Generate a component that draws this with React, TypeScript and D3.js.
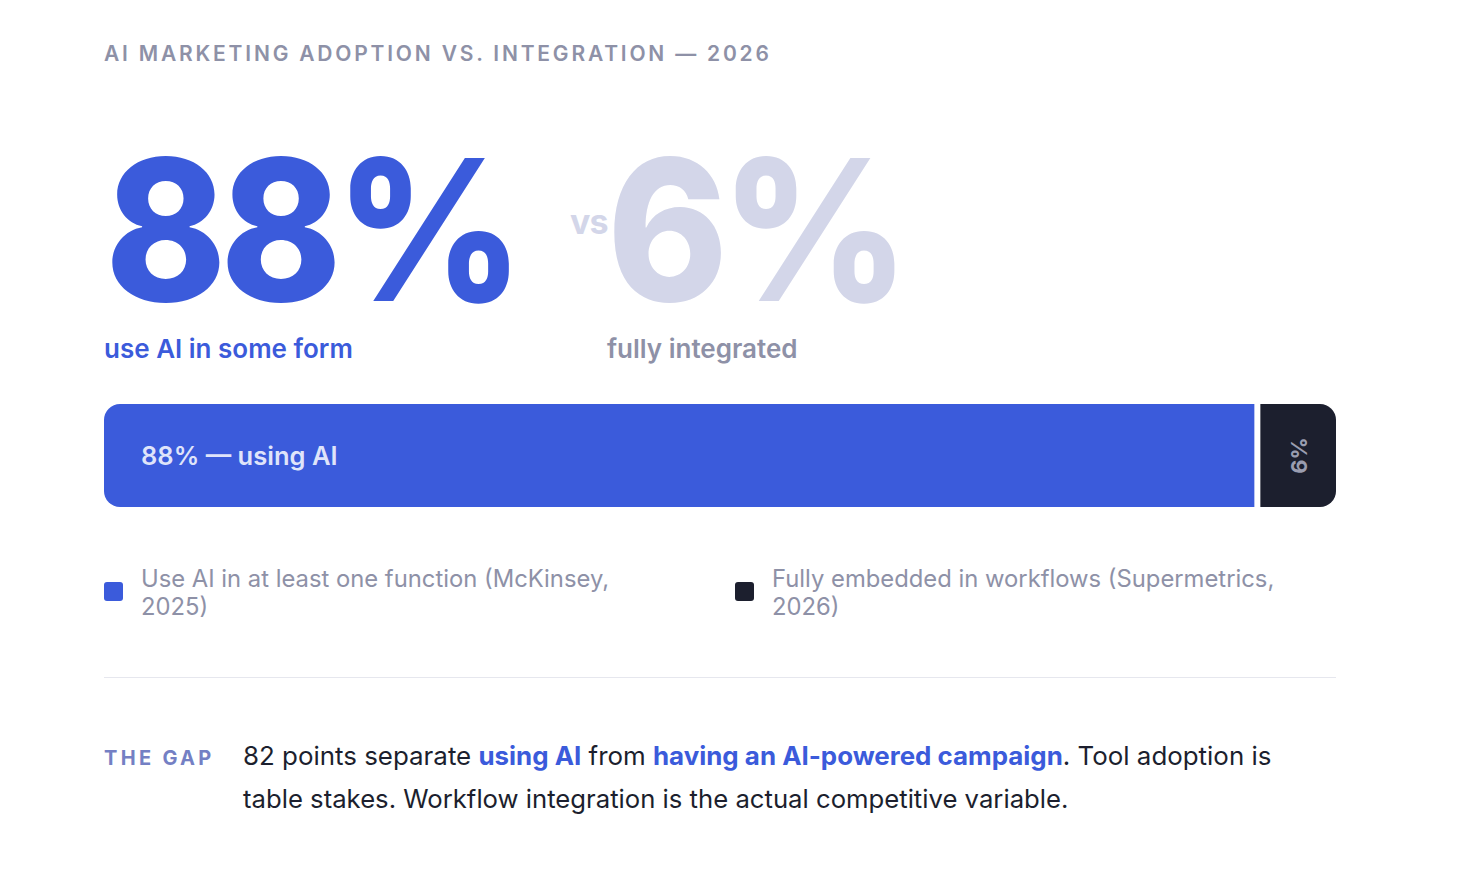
import React from "react";
import * as d3 from "d3";

const title = "AI MARKETING ADOPTION VS. INTEGRATION — 2026";
const categories = ["using AI", "fully integrated"];
const values = [88, 6];
const headlineLabels = ["use AI in some form", "fully integrated"];
const barLabels = ["88% — using AI", "6%"];
const legendLines = [
  ["Use AI in at least one function (McKinsey,", "2025)"],
  ["Fully embedded in workflows (Supermetrics,", "2026)"],
];
const gapLabel = "THE GAP";
const gapLine1 = [
  { t: "82 points separate ", b: false },
  { t: "using AI", b: true },
  { t: " from ", b: false },
  { t: "having an AI-powered campaign", b: true },
  { t: ". Tool adoption is", b: false },
];
const gapLine2 = "table stakes. Workflow integration is the actual competitive variable.";

const BLUE = "#3b5bdb";
const DARK = "#1c1f2e";
const PALE = "#d3d6e9";
const GRAY = "#8e91a7";
const FONT = "Inter, 'Noto Sans', sans-serif";

function roundedPath(x0: number, x1: number, y0: number, y1: number, rl: number, rr: number) {
  const p = d3.path();
  p.moveTo(x0 + rl, y0);
  p.lineTo(x1 - rr, y0);
  if (rr) p.arcTo(x1, y0, x1, y0 + rr, rr);
  p.lineTo(x1, y1 - rr);
  if (rr) p.arcTo(x1, y1, x1 - rr, y1, rr);
  p.lineTo(x0 + rl, y1);
  if (rl) p.arcTo(x0, y1, x0, y1 - rl, rl);
  p.lineTo(x0, y0 + rl);
  if (rl) p.arcTo(x0, y0, x0 + rl, y0, rl);
  p.closePath();
  return p.toString();
}

export default function App() {
  const left = 104;
  const right = 1336;
  const x = d3.scaleLinear().domain([0, d3.sum(values)]).range([left, right]);
  const barTop = 404;
  const barH = 103;
  const gap = 3;
  const starts = values.map((_, i) => d3.sum(values.slice(0, i)));
  const colors = [BLUE, DARK];
  const legendX = [left, 735];
  const sx = 0.935;

  return (
    <div style={{ position: "absolute", left: 0, top: 0, background: "#fff" }}>
      <svg width={1457} height={880} style={{ display: "block", fontFamily: FONT }}>
        <rect width={1457} height={880} fill="#fff" />
        <text x={left} y={61} fontSize={21} fontWeight={600} letterSpacing={2.8} fill="#8e91a7">
          {title}
        </text>

        {/* headline numbers */}
        <g transform={`translate(${left + 1},301) scale(${sx},1)`}>
          <text x={0} y={0} fontSize={196} fontWeight={800} letterSpacing={-7} fill={BLUE}>
            {`${values[0]}%`}
          </text>
        </g>
        <text x={570} y={234} fontSize={34} fontWeight={700} letterSpacing={-1} fill={PALE}>
          vs
        </text>
        <g transform={`translate(607,301) scale(${sx},1)`}>
          <text x={0} y={0} fontSize={196} fontWeight={800} letterSpacing={-8} fill={PALE}>
            {`${values[1]}%`}
          </text>
        </g>
        <text x={left} y={358} fontSize={26} fontWeight={600} fill={BLUE}>
          {headlineLabels[0]}
        </text>
        <text x={607} y={358} fontSize={26} fontWeight={600} fill={GRAY}>
          {headlineLabels[1]}
        </text>

        {/* bar */}
        {values.map((v, i) => {
          const x0 = x(starts[i]) + (i > 0 ? gap : 0);
          const x1 = x(starts[i] + v) - (i < values.length - 1 ? gap : 0);
          return (
            <path
              key={categories[i]}
              d={roundedPath(x0, x1, barTop, barTop + barH, i === 0 ? 16 : 0, i === values.length - 1 ? 16 : 0)}
              fill={colors[i]}
            />
          );
        })}
        <text x={x(0) + 37} y={barTop + barH / 2 + 9} fontSize={25.5} fontWeight={600} fill="#dfe4fa">
          {barLabels[0]}
        </text>
        <text
          transform={`translate(${(x(starts[1]) + gap + x(d3.sum(values))) / 2 + 1},${barTop + barH / 2}) rotate(-90)`}
          textAnchor="middle"
          dy="0.35em"
          fontSize={22}
          fontWeight={700}
          fill="#9a9db0"
        >
          {barLabels[1]}
        </text>

        {/* legend */}
        {legendLines.map((lines, i) => (
          <g key={i}>
            <rect x={legendX[i]} y={582} width={19} height={19} rx={3} fill={colors[i]} />
            <text x={legendX[i] + 37} y={587} fontSize={23.8} fill={GRAY}>
              {lines.map((l, j) => (
                <tspan key={j} x={legendX[i] + 37} dy={j === 0 ? 0 : 28}>
                  {l}
                </tspan>
              ))}
            </text>
          </g>
        ))}

        <line x1={left} x2={right} y1={677.5} y2={677.5} stroke="#e6e7ee" strokeWidth={1} />

        <text x={left} y={765} fontSize={20} fontWeight={700} letterSpacing={3.3} fill="#7480c4">
          {gapLabel}
        </text>
        <text x={243} y={765} fontSize={25.9} fill="#1c1f2e">
          {gapLine1.map((s, i) => (
            <tspan key={i} fontWeight={s.b ? 700 : 400} fill={s.b ? BLUE : "#1c1f2e"}>
              {s.t}
            </tspan>
          ))}
        </text>
        <text x={243} y={808} fontSize={25.7} fill="#1c1f2e">
          {gapLine2}
        </text>
      </svg>
    </div>
  );
}
